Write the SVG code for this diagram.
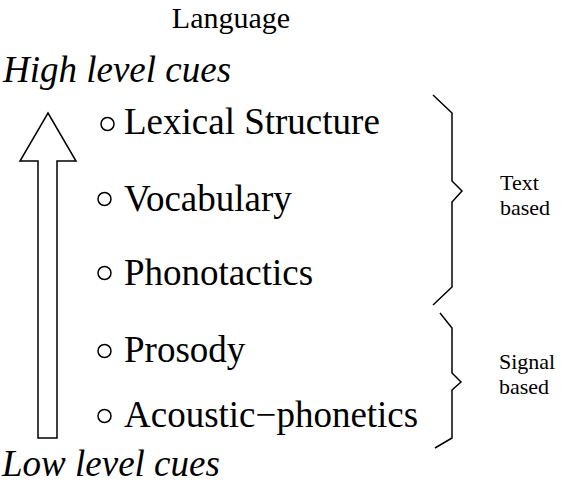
<svg xmlns="http://www.w3.org/2000/svg" width="563" height="488" viewBox="0 0 563 488">
<style>
.t{font-family:"Liberation Serif","Times New Roman",serif;fill:#000}
.item{font-size:37px}
.cue{font-size:37px;font-style:italic}
.small{font-size:22px}
.ln{fill:none;stroke:#000;stroke-width:1.5}
</style>
<rect width="563" height="488" fill="#fff"/>
<g id="title"><text class="t" style="font-size:30px" x="231" y="28" text-anchor="middle">Language</text></g>
<g id="high"><text class="t cue" x="3" y="82">High level cues</text></g>
<g id="low"><text class="t cue" x="2" y="476">Low level cues</text></g>
<g id="arrow"><path class="ln" d="M48,113 L76,161 L57,161 L57,438 L38,438 L38,161 L20,161 Z"/></g>
<g id="lexical"><circle class="ln" cx="107.5" cy="124" r="6.5"/><text class="t item" x="124" y="134">Lexical Structure</text></g>
<g id="vocabulary"><circle class="ln" cx="104.5" cy="199" r="6.5"/><text class="t item" x="124" y="211">Vocabulary</text></g>
<g id="phonotactics"><circle class="ln" cx="104.5" cy="273" r="6.5"/><text class="t item" x="124" y="285">Phonotactics</text></g>
<g id="prosody"><circle class="ln" cx="104.5" cy="351" r="6.5"/><text class="t item" x="124" y="362">Prosody</text></g>
<g id="acoustic"><circle class="ln" cx="104.5" cy="416" r="6.5"/><text class="t item" x="124" y="427">Acoustic−phonetics</text></g>
<g id="connectors">
<path class="ln" d="M433,95 L452,113 L452,181 L462,191 L452,202 L452,287 L433,305"/>
<path class="ln" d="M440,313 L452,328 L452,373 L461,382 L452,390 L452,438 L435,448"/>
</g>
<g id="text-based"><text class="t small" x="500" y="190">Text</text><text class="t small" x="500" y="214.5">based</text></g>
<g id="signal-based"><text class="t small" x="499" y="369">Signal</text><text class="t small" x="499" y="393.5">based</text></g>
</svg>
